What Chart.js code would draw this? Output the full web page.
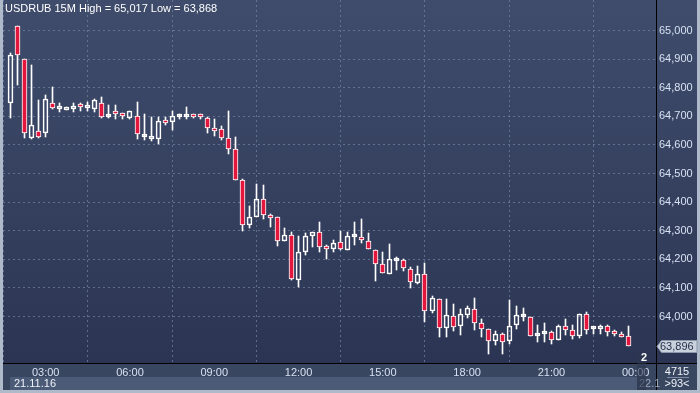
<!DOCTYPE html>
<html><head><meta charset="utf-8">
<script src="https://cdn.jsdelivr.net/npm/chart.js@4.4.1/dist/chart.umd.min.js"></script>
<style>html,body{margin:0;padding:0;background:#aeb9c9;overflow:hidden}canvas{display:block}</style>
</head><body>
<canvas id="c" width="700" height="393"></canvas>
<script>
const times = ['01:45','02:00','02:15','02:30','02:45','03:00','03:15','03:30','03:45','04:00','04:15','04:30','04:45','05:00','05:15','05:30','05:45','06:00','06:15','06:30','06:45','07:00','07:15','07:30','07:45','08:00','08:15','08:30','08:45','09:00','09:15','09:30','09:45','10:00','10:15','10:30','10:45','11:00','11:15','11:30','11:45','12:00','12:15','12:30','12:45','13:00','13:15','13:30','13:45','14:00','14:15','14:30','14:45','15:00','15:15','15:30','15:45','16:00','16:15','16:30','16:45','17:00','17:15','17:30','17:45','18:00','18:15','18:30','18:45','19:00','19:15','19:30','19:45','20:00','20:15','20:30','20:45','21:00','21:15','21:30','21:45','22:00','22:15','22:30','22:45','23:00','23:15','23:30','23:45'];

const open = [64.748,65.017,64.901,64.623,64.649,64.643,64.748,64.727,64.721,64.727,
64.738,64.730,64.724,64.745,64.696,64.718,64.707,64.695,64.700,64.627,
64.622,64.620,64.683,64.679,64.697,64.696,64.707,64.705,64.693,64.658,
64.654,64.625,64.586,64.476,64.321,64.347,64.412,64.352,64.347,64.265,
64.286,64.128,64.225,64.281,64.296,64.244,64.237,64.261,64.233,64.278,
64.275,64.265,64.233,64.184,64.150,64.193,64.198,64.167,64.117,64.147,
64.018,64.062,63.959,64.002,63.966,64.006,64.027,63.978,63.957,63.915,
63.940,63.915,63.971,63.997,63.999,63.931,63.938,63.946,63.918,63.967,
63.953,63.931,64.009,63.955,63.957,63.967,63.950,63.940,63.933];

const high = [64.920,65.017,64.901,64.878,64.757,64.774,64.803,64.745,64.731,64.745,
64.745,64.751,64.760,64.766,64.739,64.739,64.710,64.718,64.751,64.708,
64.696,64.696,64.699,64.719,64.707,64.732,64.708,64.707,64.696,64.692,
64.666,64.717,64.629,64.481,64.385,64.464,64.460,64.359,64.347,64.309,
64.297,64.281,64.291,64.296,64.332,64.250,64.269,64.298,64.295,64.332,
64.342,64.292,64.233,64.226,64.252,64.208,64.200,64.172,64.178,64.187,
64.070,64.062,64.062,64.042,64.027,64.038,64.065,63.990,63.957,63.948,
63.942,64.056,64.037,64.030,63.999,63.971,63.978,63.949,63.970,63.990,
63.971,64.009,64.014,63.964,63.972,63.972,63.952,63.946,63.967];

const low = [64.695,64.809,64.623,64.622,64.624,64.629,64.725,64.716,64.721,64.715,
64.719,64.719,64.716,64.693,64.693,64.692,64.692,64.692,64.622,64.617,
64.612,64.602,64.668,64.652,64.690,64.690,64.694,64.689,64.643,64.631,
64.618,64.569,64.478,64.300,64.309,64.347,64.340,64.312,64.246,64.265,
64.126,64.102,64.216,64.242,64.225,64.200,64.226,64.233,64.233,64.250,
64.258,64.235,64.123,64.152,64.150,64.161,64.160,64.099,64.115,63.980,
64.011,63.930,63.930,63.951,63.937,63.995,63.953,63.930,63.870,63.902,
63.868,63.903,63.956,63.983,63.933,63.910,63.910,63.903,63.918,63.937,
63.922,63.924,63.940,63.940,63.940,63.933,63.932,63.928,63.896];

const close = [64.915,64.915,64.641,64.668,64.626,64.762,64.730,64.731,64.731,64.736,
64.731,64.737,64.757,64.696,64.699,64.708,64.700,64.718,64.637,64.631,
64.626,64.683,64.675,64.700,64.700,64.700,64.696,64.696,64.658,64.650,
64.623,64.586,64.478,64.321,64.347,64.412,64.356,64.345,64.265,64.286,
64.130,64.225,64.282,64.296,64.244,64.237,64.258,64.237,64.282,64.282,
64.268,64.237,64.184,64.153,64.201,64.198,64.170,64.120,64.147,64.018,
64.065,63.959,64.006,63.963,64.009,64.030,63.978,63.957,63.915,63.940,
63.912,63.967,64.006,64.002,63.933,63.936,63.943,63.918,63.967,63.953,
63.933,64.009,63.953,63.959,63.967,63.946,63.940,63.929,63.896];

const yTickValues = [64.0,64.1,64.2,64.3,64.4,64.5,64.6,64.7,64.8,64.9,65.0];
const xTickLabels = ['03:00','06:00','09:00','12:00','15:00','18:00','21:00','00:00'];
const titleText = 'USDRUB 15M High = 65,017 Low = 63,868';
const lastPrice = 63.896;
const dateLabel = '21.11.16';
const nextDateLabel = '22.1';
const barCountText = '4715';
const sideInfoText = '>93<';
const pageText = '2';

const FONT = "'Liberation Sans Narrow','Arial Narrow','Liberation Sans',Arial,sans-serif";
const RED = '#e3173d';
const WHITE = '#ffffff';
const GRID = 'rgba(112,128,160,0.75)';
const LABEL = '#d6e1f2';

function toMin(t){const [h,m]=t.split(':').map(Number);return h*60+m;}
function slotOf(label){
  let m = toMin(label); const m0 = toMin(times[0]);
  if (m < m0) m += 1440;
  return (m - m0) / 15;
}
const fmt = v => v.toFixed(3).replace('.', ',');

const isDown = times.map((t,i)=>close[i] < open[i]);

const bodyData = times.map((t,i)=>({x:i, y:[open[i], close[i]]}));
const upperWick = times.map((t,i)=>({x:i, y:[Math.max(open[i],close[i]), high[i]]}));
const lowerWick = times.map((t,i)=>({x:i, y:[low[i], Math.min(open[i],close[i])]}));

const pixelSnap = {
  id: 'pixelSnap',
  afterDatasetsUpdate(chart){
    chart.getSortedVisibleDatasetMetas().forEach(meta=>{
      meta.data.forEach(el=>{
        el.x = Math.floor(el.x) + 0.5;
        el.y = Math.round(el.y);
        el.base = Math.round(el.base);
      });
    });
  }
};

const decor = {
  id: 'decor',
  beforeDraw(chart){
    const ctx = chart.ctx, ca = chart.chartArea;
    ctx.save();
    ctx.fillStyle = '#aeb9c9';
    ctx.fillRect(0,0,700,393);
    const g = ctx.createLinearGradient(0,0,0,ca.bottom);
    g.addColorStop(0,'#3f4c6b');
    g.addColorStop(0.55,'#35405f');
    g.addColorStop(1,'#2b3553');
    ctx.fillStyle = g;
    ctx.fillRect(3,0,694,ca.bottom);
    ctx.fillStyle = '#39465f';
    ctx.fillRect(3,ca.bottom,694,390-ca.bottom);
    ctx.fillStyle = '#4b5a76';
    ctx.fillRect(10,377,627,13);
    ctx.font = '11px ' + FONT;
    ctx.fillStyle = '#eef3fa';
    ctx.textBaseline = 'alphabetic';
    ctx.textAlign = 'left';
    ctx.fillText(dateLabel, 14, 387);
    ctx.restore();
  },
  afterDraw(chart){
    const ctx = chart.ctx, ca = chart.chartArea;
    const ys = chart.scales.y;
    ctx.save();
    ctx.strokeStyle = '#000';
    ctx.lineWidth = 1;
    ctx.beginPath();
    ctx.moveTo(3, ca.bottom + 0.5); ctx.lineTo(697, ca.bottom + 0.5);
    ctx.moveTo(ca.right + 0.5, 0); ctx.lineTo(ca.right + 0.5, 390);
    ctx.stroke();
    ctx.strokeStyle = '#7d8aa3';
    ctx.beginPath();
    ctx.moveTo(667, 377.5); ctx.lineTo(689, 377.5);
    ctx.stroke();
    ctx.font = '11px ' + FONT;
    ctx.fillStyle = '#9aa6ba';
    ctx.textAlign = 'left';
    ctx.fillText(nextDateLabel, 639, 387);
    ctx.fillStyle = 'rgba(45,55,78,0.6)';
    ctx.fillRect(637, 353, 9, 37);
    ctx.fillStyle = '#ffffff';
    ctx.font = 'bold 11px ' + FONT;
    ctx.fillText(pageText, 641, 361);
    ctx.font = '11px ' + FONT;
    ctx.fillStyle = '#eef3fa';
    ctx.textAlign = 'center';
    ctx.fillText(barCountText, 677, 375);
    ctx.fillText(sideInfoText, 677, 387);
    const py = Math.round(ys.getPixelForValue(lastPrice));
    ctx.fillStyle = '#c9d1dc';
    ctx.strokeStyle = '#8d98aa';
    ctx.beginPath();
    ctx.moveTo(ca.right + 1, py + 0.5);
    ctx.lineTo(ca.right + 5.5, py - 5.5);
    ctx.lineTo(697, py - 5.5);
    ctx.lineTo(697, py + 6.5);
    ctx.lineTo(ca.right + 5.5, py + 6.5);
    ctx.closePath();
    ctx.fill();
    ctx.stroke();
    ctx.fillStyle = '#26324b';
    ctx.textAlign = 'left';
    ctx.textBaseline = 'middle';
    ctx.fillText(fmt(lastPrice), ca.right + 4, py + 1);
    ctx.fillStyle = '#ffffff';
    ctx.textBaseline = 'alphabetic';
    ctx.fillText(titleText, 5, 12);
    ctx.restore();
  }
};

new Chart(document.getElementById('c'), {
  type: 'bar',
  data: {
    datasets: [
      {
        label: 'body',
        data: bodyData,
        backgroundColor: isDown.map(d => d ? RED : 'rgba(0,0,0,0)'),
        borderColor: WHITE,
        borderWidth: 1,
        borderSkipped: false,
        barThickness: 5,
        minBarLength: 3,
        grouped: false,
        order: 0
      },
      {
        label: 'upper wick',
        data: upperWick,
        backgroundColor: WHITE,
        borderWidth: 0,
        barThickness: 1,
        grouped: false,
        order: 1
      },
      {
        label: 'lower wick',
        data: lowerWick,
        backgroundColor: WHITE,
        borderWidth: 0,
        barThickness: 1,
        grouped: false,
        order: 1
      }
    ]
  },
  options: {
    responsive: false,
    devicePixelRatio: 1,
    animation: false,
    layout: { padding: { left: 3, right: 3, top: 0, bottom: 3 } },
    plugins: { legend: { display: false }, tooltip: { enabled: false }, title: { display: false } },
    scales: {
      x: {
        type: 'linear',
        position: 'bottom',
        offset: false,
        min: -1.079,
        max: 91.89,
        afterBuildTicks(scale){ scale.ticks = xTickLabels.map(l => ({ value: slotOf(l) })); },
        afterFit(scale){ scale.height = 27; scale.paddingLeft = 0; scale.paddingRight = 0; },
        grid: { color: GRID, lineWidth: 1, drawTicks: false },
        border: { display: false, dash: [2,3] },
        ticks: {
          autoSkip: false, maxRotation: 0, padding: 3,
          color: LABEL, font: { family: FONT, size: 11 },
          callback: (v, i) => xTickLabels[i]
        }
      },
      y: {
        type: 'linear',
        position: 'right',
        min: 63.8374,
        max: 65.1066,
        afterBuildTicks(scale){ scale.ticks = yTickValues.map(v => ({ value: v })); },
        afterFit(scale){ scale.width = 41; scale.paddingTop = 0; scale.paddingBottom = 0; },
        grid: { color: GRID, lineWidth: 1, drawTicks: false },
        border: { display: false, dash: [2,3] },
        ticks: {
          padding: 3, color: LABEL, font: { family: FONT, size: 11 },
          callback: v => fmt(v)
        }
      }
    }
  },
  plugins: [pixelSnap, decor]
});
</script>
</body></html>
